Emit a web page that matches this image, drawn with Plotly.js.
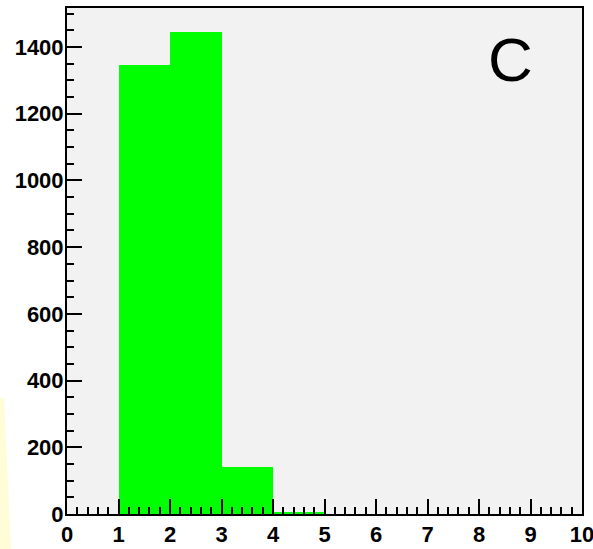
<!DOCTYPE html>
<html>
<head>
<meta charset="utf-8">
<script src="https://cdn.plot.ly/plotly-3.0.1.min.js"></script>
<style>html,body{margin:0;padding:0;background:#fff;}#chart{width:593px;height:549px;}</style>
</head>
<body>
<div id="chart"></div>
<script>
// Histogram bins (lower edges) and counts
const binLow = [0, 1, 2, 3, 4, 5, 6, 7, 8, 9];
const counts = [0, 1346, 1445, 140, 7, 0, 0, 0, 0, 0];
const label = "C";

const W = 593, H = 549, L = 67, R = 11, T = 8, B = 35;
const pw = W - L - R, ph = H - T - B;
function px(x){ return (x - L) / pw; }
function py(y){ return (H - B - y) / ph; }

const trace = {
  type: 'bar',
  x: binLow.map(v => v + 0.5),
  y: counts,
  width: binLow.map(() => 1),
  marker: {color: '#00ff00', line: {width: 0}},
  hoverinfo: 'x+y'
};

const tickFont = {family: 'Liberation Sans, Arial, sans-serif', size: 22, color: '#000', weight: 'bold'};

const layout = {
  width: W, height: H,
  margin: {l: L, r: R, t: T, b: B, pad: 0},
  paper_bgcolor: '#ffffff',
  plot_bgcolor: '#f2f2f2',
  showlegend: false,
  bargap: 0,
  xaxis: {
    range: [0, 10], dtick: 1, tick0: 0,
    ticks: 'inside', ticklen: 15, tickwidth: 2, tickcolor: '#000',
    minor: {dtick: 0.2, ticks: 'inside', ticklen: 7, tickwidth: 2, tickcolor: '#000'},
    showgrid: false, zeroline: false,
    showline: true, linecolor: '#000', linewidth: 2, mirror: true,
    tickfont: tickFont, ticklabelstandoff: 0, ticklabeloverflow: 'allow'
  },
  yaxis: {
    range: [0, 1517], dtick: 200, tick0: 0,
    ticks: 'inside', ticklen: 15, tickwidth: 2, tickcolor: '#000',
    minor: {dtick: 50, ticks: 'inside', ticklen: 7, tickwidth: 2, tickcolor: '#000'},
    showgrid: false, zeroline: false,
    showline: true, linecolor: '#000', linewidth: 2, mirror: true,
    tickfont: tickFont, ticklabelstandoff: -3, ticklabeloverflow: 'allow'
  },
  annotations: [{
    text: label, xref: 'paper', yref: 'paper',
    x: px(510), y: py(60), xanchor: 'center', yanchor: 'middle',
    showarrow: false,
    font: {family: 'Liberation Sans, Arial, sans-serif', size: 62, color: '#000'}
  }],
  shapes: [{
    type: 'path', xref: 'paper', yref: 'paper', layer: 'below',
    path: 'M ' + px(0) + ' ' + py(398) + ' L ' + px(4) + ' ' + py(398) +
          ' L ' + px(11) + ' ' + py(549) + ' L ' + px(0) + ' ' + py(549) + ' Z',
    fillcolor: '#fffcd8', line: {width: 0}
  }]
};

Plotly.newPlot('chart', [trace], layout, {staticPlot: true, displayModeBar: false});
</script>
</body>
</html>
